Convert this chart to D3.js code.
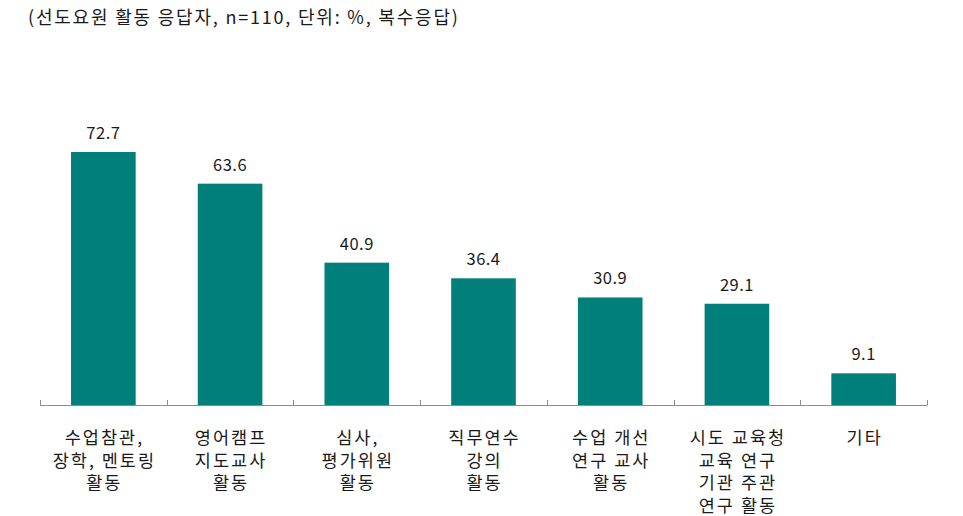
<!DOCTYPE html>
<html>
<head>
<meta charset="utf-8">
<script src="https://cdn.jsdelivr.net/npm/d3@7"></script>
<style>
  body { margin: 0; background: #fff; }
  text { font-family: "Noto Sans CJK KR", "Noto Sans", sans-serif; fill: #1a1a1a; }
</style>
</head>
<body>
<div id="chart"></div>
<script>
// chart data
var categories = ["수업참관,|장학, 멘토링|활동", "영어캠프|지도교사|활동", "심사,|평가위원|활동",
  "직무연수|강의|활동", "수업 개선|연구 교사|활동", "시도 교육청|교육 연구|기관 주관|연구 활동", "기타"];
var values = [72.7, 63.6, 40.9, 36.4, 30.9, 29.1, 9.1];
var title = "(선도요원 활동 응답자, n=110, 단위: %, 복수응답)";

// sizes
var margin = {top: 0, left: 40, right: 36, bottom: 0},
  width = 963 - margin.left - margin.right,
  baseline = 405;

var svg = d3.select("#chart")
  .append("svg")
    .attr("width", 963)
    .attr("height", 516);

// title
svg.append("text")
  .attr("x", 28)
  .attr("y", 24)
  .style("font-size", "18px")
  .style("letter-spacing", "1.8px")
  .text(title);

var chart = svg.append("g")
  .attr("transform", "translate(" + margin.left + ",0)");

// scales
var x = d3.scaleBand()
  .domain(d3.range(categories.length))
  .range([0, width])
  .paddingInner(0.49)
  .paddingOuter(0.245);

var y = d3.scaleLinear()
  .domain([0, 72.7])
  .range([baseline, 152]);

// bars
chart.selectAll(".bar")
  .data(values)
  .enter().append("rect")
    .attr("class", "bar")
    .attr("x", function(d, i) { return x(i); })
    .attr("y", function(d) { return y(d); })
    .attr("width", x.bandwidth())
    .attr("height", function(d) { return baseline - y(d); })
    .style("fill", "#007F7B");

// value labels
chart.selectAll(".val")
  .data(values)
  .enter().append("text")
    .attr("class", "val")
    .attr("x", function(d, i) { return x(i) + x.bandwidth() / 2; })
    .attr("y", function(d) { return y(d) - 13; })
    .attr("text-anchor", "middle")
    .style("font-size", "16.5px")
    .style("letter-spacing", "0.5px")
    .text(function(d) { return d.toFixed(1); });

// axis line with boundary ticks
var step = width / categories.length;
chart.append("line")
  .attr("x1", 0).attr("x2", width)
  .attr("y1", baseline + 0.5).attr("y2", baseline + 0.5)
  .style("stroke", "#8c8c8c");

chart.selectAll(".tick")
  .data(d3.range(categories.length + 1))
  .enter().append("line")
    .attr("class", "tick")
    .attr("x1", function(d) { return Math.round(d * step) + 0.5; })
    .attr("x2", function(d) { return Math.round(d * step) + 0.5; })
    .attr("y1", baseline - 5)
    .attr("y2", baseline + 0.5)
    .style("stroke", "#8c8c8c");

// category labels
var labels = chart.selectAll(".cat")
  .data(categories)
  .enter().append("text")
    .attr("class", "cat")
    .attr("text-anchor", "middle")
    .style("font-size", "17.5px")
    .style("letter-spacing", "2px")
    .attr("transform", function(d, i) { return "translate(" + (x(i) + x.bandwidth() / 2 + 1) + ",444)"; });

labels.selectAll("tspan")
  .data(function(d) { return d.split("|"); })
  .enter().append("tspan")
    .attr("x", 0)
    .attr("dy", function(d, i) { return i === 0 ? 0 : 22.5; })
    .text(function(d) { return d; });
</script>
</body>
</html>
